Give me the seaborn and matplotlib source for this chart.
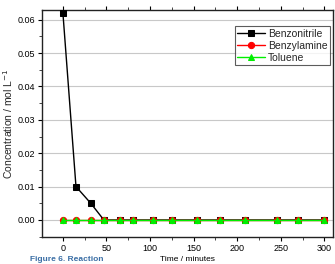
import matplotlib
matplotlib.use("Agg")
import matplotlib.pyplot as plt
import seaborn as sns
import pandas as pd
import numpy as np
from matplotlib.ticker import MultipleLocator

time_min = [0, 15, 32, 47, 65, 81, 103, 125, 154, 180, 209, 246, 270, 300]
benzonitrile = [0.062, 0.010, 0.005, 0, 0, 0, 0, 0, 0, 0, 0, 0, 0, 0]
benzylamine = [0] * 14
toluene = [0] * 14

series_names = ["Benzonitrile", "Benzylamine", "Toluene"]
series_values = [benzonitrile, benzylamine, toluene]
colors = ["#000000", "#ff0000", "#00ee00"]
markers = ["s", "o", "^"]

sns.set_style("white")
plt.rcParams['font.family'] = ['Liberation Sans', 'DejaVu Sans']

fig = plt.figure(figsize=(3.35, 2.64), dpi=100)
ax = fig.add_axes([42/335, 1-237/264, (333-42)/335, (237-10)/264])

frames = []
for name, vals in zip(series_names, series_values):
    frames.append(pd.DataFrame({"t": time_min, "c": vals, "s": name}))
df = pd.concat(frames)

for name, col, mk in zip(series_names, colors, markers):
    sub = df[df["s"] == name]
    sns.lineplot(data=sub, x="t", y="c", ax=ax, color=col, marker=mk,
                 markersize=4.5, markeredgecolor=col, linewidth=1.0, label=name,
                 zorder=3)

ax.set_xlim(-24, 310)
ax.set_ylim(-0.0051, 0.0629)
ax.xaxis.set_major_locator(MultipleLocator(50))
ax.xaxis.set_minor_locator(MultipleLocator(25))
ax.yaxis.set_major_locator(MultipleLocator(0.01))
ax.yaxis.set_minor_locator(MultipleLocator(0.005))
ax.yaxis.set_major_formatter(matplotlib.ticker.FormatStrFormatter('%.2f'))
ax.grid(axis='y', which='major', color='#c8c8c8', linewidth=0.8)
ax.grid(axis='x', visible=False)
ax.tick_params(axis='both', which='major', direction='out', length=3, width=0.8,
               labelsize=6.5, colors='black', bottom=True, left=True, top=True, pad=2)
ax.tick_params(axis='both', which='minor', direction='out', length=2, width=0.6,
               bottom=True, left=True, top=True)
for sp in ax.spines.values():
    sp.set_color('#222222')
    sp.set_linewidth(1.0)

ax.set_ylabel("Concentration / mol L$^{-1}$", fontsize=7.5, labelpad=2)
ax.set_xlabel("")

leg = ax.legend(loc='upper right', bbox_to_anchor=(0.9965, 0.9385), fontsize=7.5,
                frameon=True, fancybox=False, edgecolor='#333333',
                handlelength=2.6, handletextpad=0.3, borderpad=0.25,
                labelspacing=0.2, borderaxespad=0.2)
leg.get_frame().set_linewidth(0.8)

fig.text(0.56, 1 - 256/264, "Time / minutes", fontsize=6, ha='center', va='top', color='black')
fig.text(0.09, 1 - 256/264, "Figure 6. Reaction", fontsize=6, ha='left', va='top',
         color='#3a6ea5', fontweight='bold')

fig.savefig("out.png", dpi=100)
